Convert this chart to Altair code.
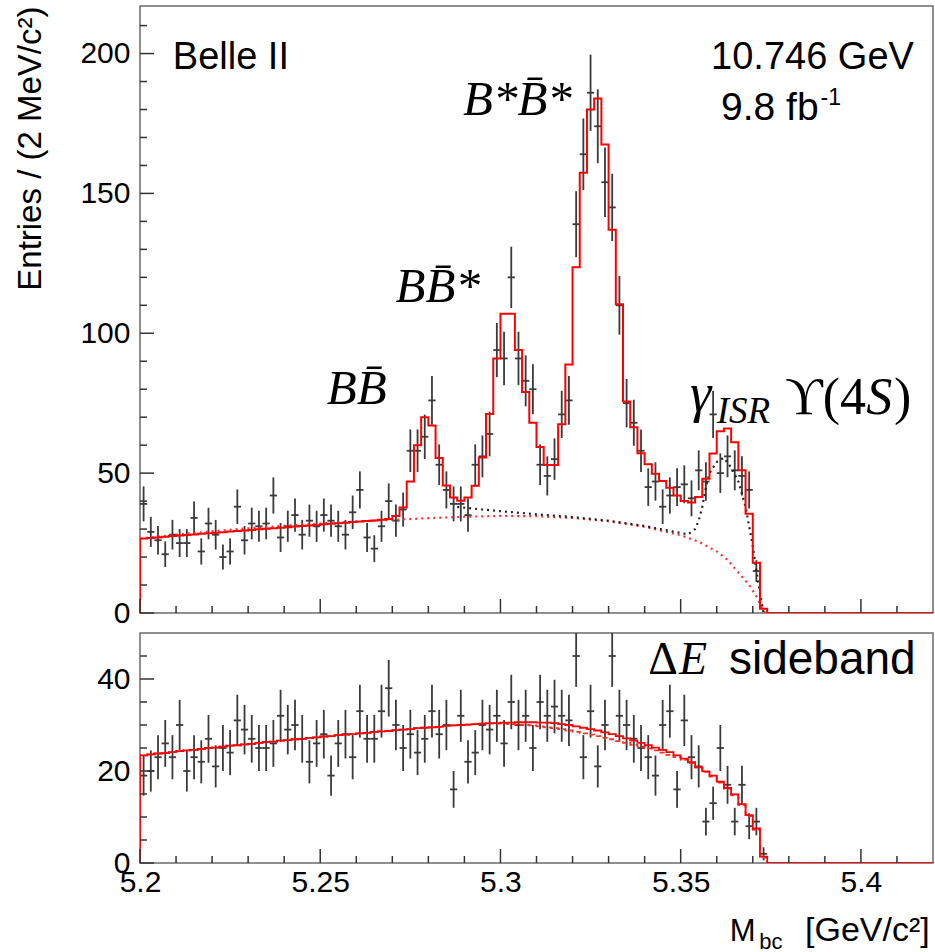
import math
import altair as alt
import pandas as pd

# ---------------- data ----------------
X0 = 5.2          # left edge of the histogram  [GeV/c^2]
BW = 0.002        # bin width
NB = 110          # number of bins (5.20 - 5.42)

# top panel: data counts per bin (bins beyond the list are empty)
top_counts = [39, 29, 26, 21, 28, 25, 25, 34, 22, 32,
              28, 20, 22, 38, 26, 32, 31, 32, 42, 27,
              31, 35, 28, 33, 31, 35, 33, 31, 28, 36,
              44, 27, 23, 31, 40, 33, 37, 58, 58, 63,
              76, 53, 44, 39, 39, 35, 53, 56, 64, 94,
              91, 120, 91, 83, 80, 53, 49, 55, 71, 76,
              139, 164, 186, 174, 154, 145, 110, 75, 68, 58,
              45, 47, 38, 42, 45, 46, 41, 51, 47, 71,
              50, 56, 51, 49, 44, 15]

# top panel: total fit per bin
top_fit = [26.6, 26.8, 27.0, 27.3, 27.5, 27.7, 27.9, 28.1, 28.3, 28.5,
           28.7, 28.9, 29.1, 29.3, 29.5, 29.7, 29.9, 30.1, 30.3, 30.5,
           30.7, 30.9, 31.1, 31.3, 31.5, 31.7, 31.9, 32.1, 32.3, 32.5,
           32.7, 32.9, 33.1, 33.3, 33.6, 34.7, 37.7, 47.0, 60.0, 70.0,
           67.0, 55.4, 45.6, 41.3, 40.1, 41.3, 45.5, 55.6, 71.1, 91.0,
           107.0, 107.0, 94.0, 79.0, 68.0, 59.3, 52.9, 52.9, 67.5, 88.8,
           123.6, 157.4, 180.0, 183.9, 167.5, 137.0, 110.4, 75.6, 66.4, 57.1,
           53.2, 49.8, 47.2, 44.8, 42.0, 40.0, 39.5, 41.5, 48.0, 57.0,
           65.0, 66.0, 61.0, 51.0, 35.5, 18.0, 1.5]

# top panel: smooth background curves
red_bkg_m = [5.200, 5.210, 5.220, 5.230, 5.240, 5.250, 5.260, 5.270, 5.280, 5.290,
             5.300, 5.310, 5.320, 5.330, 5.340, 5.350, 5.355, 5.360, 5.363, 5.366,
             5.369, 5.371, 5.3725, 5.3735]
red_bkg_v = [26.6, 28.0, 29.2, 30.3, 31.2, 32.0, 32.7, 33.3, 33.9, 34.4,
             34.7, 34.6, 34.0, 32.8, 30.8, 27.8, 25.5, 22.0, 19.0, 14.5,
             10.0, 6.0, 2.0, 0.0]
blk_m = [5.288, 5.295, 5.300, 5.310, 5.320, 5.330, 5.340, 5.350, 5.352, 5.354,
         5.355, 5.356, 5.357, 5.358, 5.360, 5.362, 5.364, 5.366, 5.368, 5.369,
         5.370, 5.371, 5.372, 5.373]
blk_v = [37.9, 37.0, 36.4, 35.3, 34.3, 33.0, 31.1, 28.6, 28.1, 30.0,
         33.0, 38.0, 45.0, 50.0, 54.0, 55.5, 52.0, 47.0, 38.0, 31.0,
         24.0, 15.0, 7.0, 0.0]

# bottom panel (Delta E sideband)
bot_counts = [19, 20, 23, 26, 23, 30, 20, 23, 22, 27,
              21, 25, 24, 31, 29, 27, 25, 25, 26, 32,
              29, 30, 27, 22, 26, 28, 19, 26, 28, 23,
              33, 27, 27, 33, 38, 30, 25, 28, 24, 27,
              33, 28, 30, 16, 32, 22, 24, 30, 29, 32,
              26, 35, 30, 32, 25, 35, 32, 34, 32, 31,
              45, 23, 33, 21, 30, 45, 32, 30, 27, 25,
              23, 19, 30, 33, 16, 31, 23, 21, 9, 13,
              25, 17, 9, 17, 8, 9, 2]
bot_fit = [23.4, 23.6, 23.8, 23.9, 24.1, 24.3, 24.5, 24.6, 24.8, 25.0,
           25.1, 25.3, 25.5, 25.6, 25.8, 25.9, 26.1, 26.3, 26.4, 26.6,
           26.7, 26.9, 27.0, 27.2, 27.3, 27.5, 27.6, 27.8, 27.9, 28.0,
           28.2, 28.3, 28.5, 28.6, 28.7, 28.9, 29.0, 29.1, 29.3, 29.4,
           29.5, 29.6, 29.8, 29.9, 30.0, 30.1, 30.2, 30.3, 30.4, 30.4,
           30.5, 30.5, 30.6, 30.6, 30.6, 30.5, 30.5, 30.4, 30.2, 30.0,
           29.7, 29.4, 29.1, 28.8, 28.4, 28.0, 27.6, 27.1, 26.6, 26.1,
           25.6, 25.1, 24.6, 24.1, 23.4, 22.7, 21.9, 20.8, 19.9, 19.0,
           17.7, 16.3, 14.9, 12.8, 10.4, 7.5, 1.4]
bot_bkg = [23.4, 23.6, 23.8, 23.9, 24.1, 24.3, 24.5, 24.6, 24.8, 25.0,
           25.1, 25.3, 25.5, 25.6, 25.8, 25.9, 26.1, 26.3, 26.4, 26.6,
           26.7, 26.9, 27.0, 27.2, 27.3, 27.5, 27.6, 27.8, 27.9, 28.0,
           28.2, 28.3, 28.5, 28.6, 28.7, 28.9, 29.0, 29.1, 29.3, 29.4,
           29.5, 29.6, 29.8, 29.9, 30.0, 30.1, 30.2, 30.3, 30.3, 30.3,
           30.3, 30.2, 30.1, 30.0, 29.9, 29.7, 29.5, 29.3, 29.1, 28.8,
           28.5, 28.2, 27.9, 27.6, 27.2, 26.9, 26.5, 26.1, 25.7, 25.3,
           24.9, 24.5, 24.0, 23.5, 23.0, 22.4, 21.7, 20.8, 19.8, 18.8,
           17.5, 16.2, 14.7, 12.6, 10.2, 7.2, 1.2]

top_y_major = [0, 50, 100, 150, 200]
top_y_minor = [10, 20, 30, 40, 60, 70, 80, 90, 110, 120, 130, 140, 160, 170, 180, 190, 210]
bot_y_major = [0, 20, 40]
bot_y_minor = [5, 10, 15, 25, 30, 35, 45]
x_major = [5.2, 5.25, 5.3, 5.35, 5.4]
x_minor = [5.21, 5.22, 5.23, 5.24, 5.26, 5.27, 5.28, 5.29, 5.31, 5.32, 5.33, 5.34,
           5.36, 5.37, 5.38, 5.39, 5.41]

# ---------------- style ----------------
FONT = "Liberation Sans"
SERIF = "Liberation Serif"
DATA = "#3a3a3a"
RED = "#ff0000"
TICK = "#333333"
W, H1, H2 = 793, 607, 230

xs = alt.Scale(domain=[5.2, 5.42], nice=False, zero=False)
ys1 = alt.Scale(domain=[0, 217], nice=False)
ys2 = alt.Scale(domain=[0, 50], nice=False)


def yaxis(values, title=None):
    kw = dict(values=values, ticks=False, domain=False, grid=False, labelFlush=False,
              labelFontSize=30, labelFont=FONT, labelColor="black", labelPadding=10)
    if title:
        kw.update(title=title, titleFont=FONT, titleFontSize=33, titleFontWeight="normal",
                  titleColor="black", titleAngle=270, titleX=-100, titleY=0,
                  titleAlign="right", titleBaseline="alphabetic")
    else:
        kw["title"] = None
    return alt.Axis(**kw)


TOP_X = alt.Axis(values=x_major, labels=False, ticks=False, domain=False, grid=False, title=None)
TOP_Y = yaxis(top_y_major, "Entries / (2 MeV/c\u00b2)")
BOT_X = alt.Axis(values=x_major, format="~g", ticks=False, domain=False, grid=False,
                 labelFlush=False, labelFontSize=30, labelFont=FONT, labelColor="black",
                 labelPadding=4, title=None)
BOT_Y = yaxis(bot_y_major)


def points_df(counts):
    rows = []
    for k, n in enumerate(counts):
        if n <= 0:
            continue
        m = X0 + BW * (k + 0.5)
        e = math.sqrt(n)
        rows.append(dict(m=m, xl=m - BW / 2, xr=m + BW / 2, n=n, lo=n - e, hi=n + e))
    return pd.DataFrame(rows)


def step_df(vals):
    vals = list(vals) + [0.0] * (NB - len(vals))
    rows = [dict(x=X0, v=0.0, o=0)]
    for k, v in enumerate(vals):
        rows.append(dict(x=X0 + BW * k, v=v, o=k + 1))
    rows.append(dict(x=X0 + BW * NB, v=vals[-1], o=NB + 1))
    return pd.DataFrame(rows)


def data_layers(counts, ys, xax, yax):
    p = points_df(counts)
    vb = alt.Chart(p).mark_rule(color=DATA, strokeWidth=1.8, clip=True).encode(
        x=alt.X("m:Q", scale=xs, axis=xax),
        y=alt.Y("lo:Q", scale=ys, axis=yax), y2="hi:Q")
    hb = alt.Chart(p).mark_rule(color=DATA, strokeWidth=1.8, clip=True).encode(
        x=alt.X("xl:Q", scale=xs, axis=xax), x2="xr:Q",
        y=alt.Y("n:Q", scale=ys, axis=yax))
    return [vb, hb]


def step_layer(vals, ys, xax, yax, color=RED, dash=None, width=2.0):
    kw = dict(color=color, strokeWidth=width, interpolate="step-after", clip=True)
    if dash:
        kw["strokeDash"] = dash
    return alt.Chart(step_df(vals)).mark_line(**kw).encode(
        x=alt.X("x:Q", scale=xs, axis=xax),
        y=alt.Y("v:Q", scale=ys, axis=yax),
        order="o:Q")


def curve_layer(ms, vs, ys, xax, yax, color, dash):
    return alt.Chart(pd.DataFrame({"m": ms, "v": vs})).mark_line(
        color=color, strokeWidth=2.2, strokeDash=dash, clip=True).encode(
        x=alt.X("m:Q", scale=xs, axis=xax),
        y=alt.Y("v:Q", scale=ys, axis=yax))


def tick_layers(ymaj, ymin, ys, H, xax, yax):
    out = []
    for vals, ln in ((ymaj, 14), (ymin, 7)):
        out.append(alt.Chart(pd.DataFrame({"v": vals})).mark_rule(color=TICK, strokeWidth=1.5).encode(
            y=alt.Y("v:Q", scale=ys, axis=yax), x=alt.value(0), x2=alt.value(ln)))
    for vals, ln in ((x_major, 14), (x_minor, 7)):
        out.append(alt.Chart(pd.DataFrame({"v": vals})).mark_rule(color=TICK, strokeWidth=1.5).encode(
            x=alt.X("v:Q", scale=xs, axis=xax), y=alt.value(H), y2=alt.value(H - ln)))
    return out


def text_layers(items, ys, xax, yax):
    out = []
    for txt, x, y, font, size, style, align in items:
        out.append(alt.Chart(pd.DataFrame({"x": [x], "y": [y], "t": [txt]})).mark_text(
            font=font, fontSize=size, fontStyle=style, align=align, baseline="alphabetic",
            color="black").encode(
            x=alt.X("x:Q", scale=xs, axis=xax),
            y=alt.Y("y:Q", scale=ys, axis=yax),
            text="t:N"))
    return out


top_text = [
    ("Belle II", 5.2091, 194.3, FONT, 38, "normal", "left"),
    ("10.746 GeV", 5.4147, 194.3, FONT, 38, "normal", "right"),
    ("9.8 fb", 5.3612, 176.4, FONT, 39, "normal", "left"),
    ("-1", 5.3888, 181.5, FONT, 23, "normal", "left"),
    ("B*B\u0304*", 5.3047, 178.2, SERIF, 49, "italic", "center"),
    ("BB\u0304*", 5.2826, 111.1, SERIF, 49, "italic", "center"),
    ("BB\u0304", 5.2601, 74.8, SERIF, 49, "italic", "center"),
    ("\u03b3", 5.3526, 72.3, SERIF, 54, "italic", "left"),
    ("ISR", 5.3600, 68.1, SERIF, 37, "italic", "left"),
    ("\u03d2(4", 5.3790, 71.0, SERIF, 52, "normal", "left"),
    ("S", 5.4015, 71.0, SERIF, 52, "italic", "left"),
    (")", 5.4092, 71.0, SERIF, 52, "normal", "left"),
]
bot_text = [
    ("\u0394", 5.3410, 41.1, SERIF, 46, "normal", "left"),
    ("E", 5.3495, 41.1, SERIF, 46, "italic", "left"),
    ("sideband", 5.3634, 41.1, FONT, 46, "normal", "left"),
    ("M", 5.3636, -17.0, FONT, 31, "normal", "left"),
    ("bc", 5.3718, -18.6, FONT, 22, "normal", "left"),
    ("[GeV/c\u00b2]", 5.3845, -17.0, FONT, 34, "normal", "left"),
]

# ---------------- top panel ----------------
top_layers = (
    data_layers(top_counts, ys1, TOP_X, TOP_Y)
    + [curve_layer(red_bkg_m, red_bkg_v, ys1, TOP_X, TOP_Y, "#ff3030", [2, 4]),
       curve_layer(blk_m, blk_v, ys1, TOP_X, TOP_Y, "#222222", [2, 4]),
       step_layer(top_fit, ys1, TOP_X, TOP_Y)]
    + tick_layers(top_y_major, top_y_minor, ys1, H1, TOP_X, TOP_Y)
    + text_layers(top_text, ys1, TOP_X, TOP_Y)
)
top = alt.layer(*top_layers).properties(width=W, height=H1)

# ---------------- bottom panel ----------------
bot_layers = (
    data_layers(bot_counts, ys2, BOT_X, BOT_Y)
    + [step_layer(bot_bkg, ys2, BOT_X, BOT_Y, color="#ff3030", dash=[5, 3], width=1.8),
       step_layer(bot_fit, ys2, BOT_X, BOT_Y, width=1.8)]
    + tick_layers(bot_y_major, bot_y_minor, ys2, H2, BOT_X, BOT_Y)
    + text_layers(bot_text, ys2, BOT_X, BOT_Y)
)
bottom = alt.layer(*bot_layers).properties(width=W, height=H2)

chart = alt.vconcat(top, bottom, spacing=20, bounds="flush").properties(
    padding={"left": 13, "top": 5, "right": 0, "bottom": 0},
    background="white",
).configure_view(stroke="#6b6b6b", strokeWidth=1.5)

chart.save("out.html", embed_options={"renderer": "svg", "actions": False})
